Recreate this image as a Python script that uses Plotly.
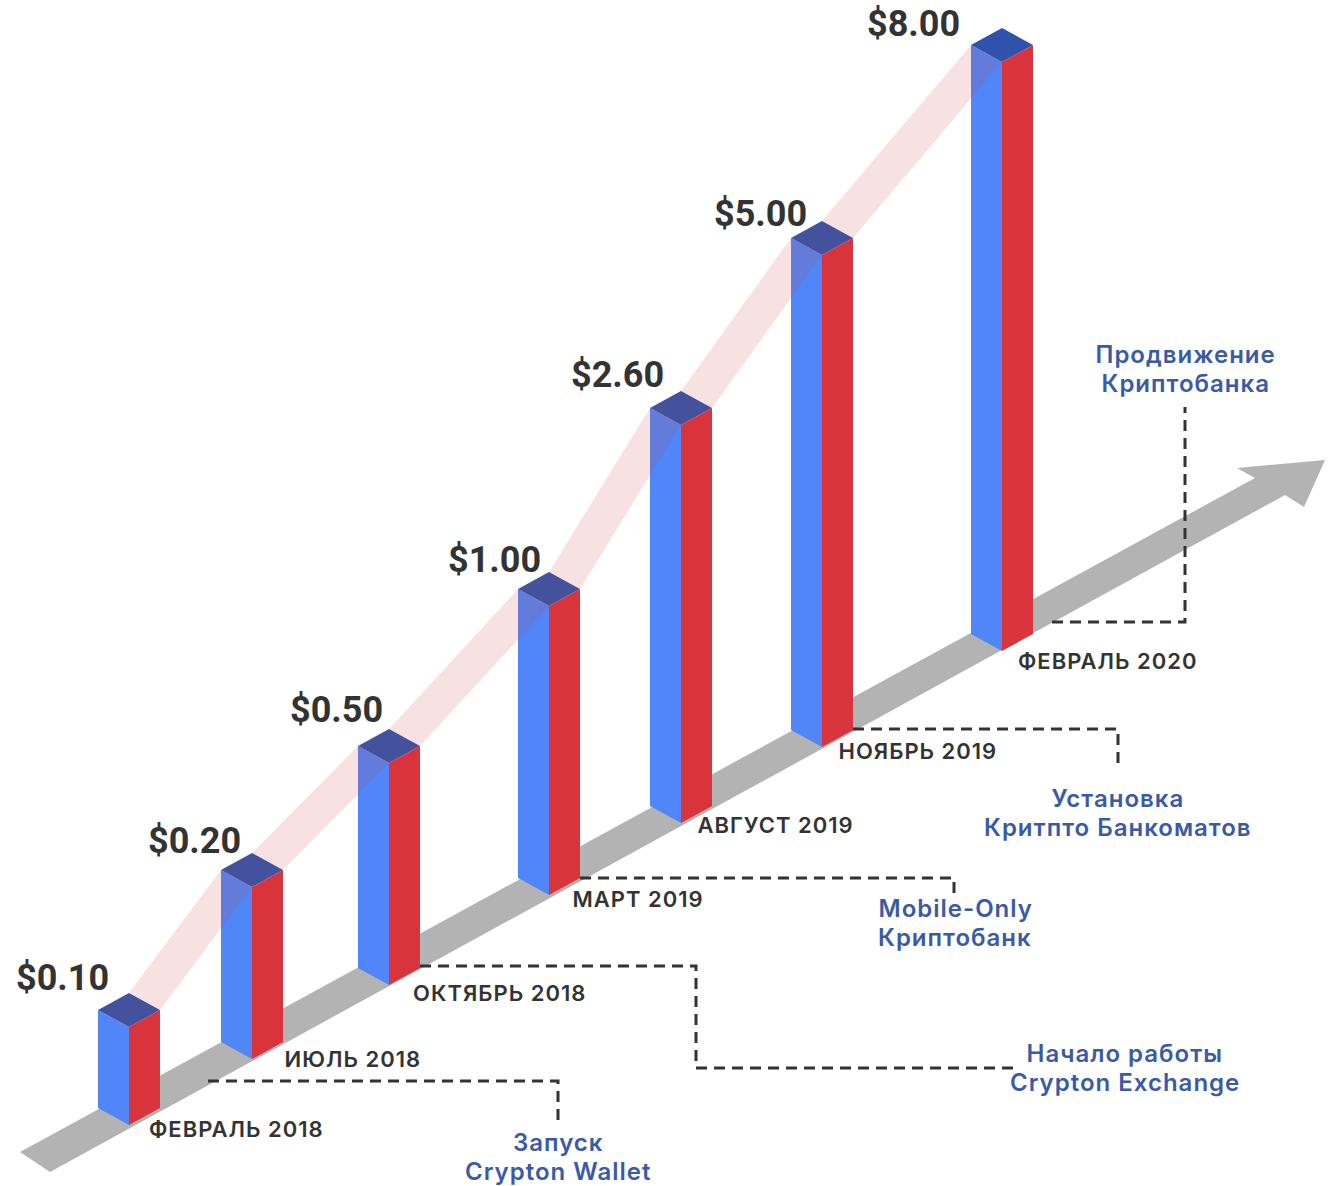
import plotly.graph_objects as go

# --- chart values ---
prices = [0.10, 0.20, 0.50, 1.00, 2.60, 5.00, 8.00]
dates = ["ФЕВРАЛЬ 2018", "ИЮЛЬ 2018", "ОКТЯБРЬ 2018", "МАРТ 2019",
         "АВГУСТ 2019", "НОЯБРЬ 2019", "ФЕВРАЛЬ 2020"]
column_heights = [98, 172, 222, 289, 398, 492, 589]
milestones = [["Запуск", "Crypton Wallet"], ["Начало работы", "Crypton Exchange"],
              ["Mobile-Only", "Криптобанк"], ["Установка", "Критпто Банкоматов"],
              ["Продвижение", "Криптобанка"]]

# --- layout (page pixels) ---
W, H = 1328, 1186
base_x = [129, 252, 389, 549, 681, 822, 1002]
base_y = [1125, 1059, 985, 895, 823, 747, 651]
HALF_W, HALF_D = 31, 17

price_pos = [(62, 978), (194, 841), (336, 710), (494, 560), (617, 375), (760, 214), (913, 24)]
date_pos = [(147, 1129), (282, 1059), (411, 993), (570, 899), (695, 825), (836, 751), (1016, 661)]
milestone_pos = [(558, 1142), (1125, 1053), (955, 908), (1118, 798), (1185, 354)]
LINE_STEP = 29
DATE_SPACING = 1.0
leaders = [
    [(208, 1081), (558, 1081), (558, 1122)],
    [(420, 966), (696, 966), (696, 1068), (1018, 1068)],
    [(580, 878), (954, 878), (954, 895)],
    [(853, 729), (1118, 729), (1118, 768)],
    [(1052, 622), (1185, 622), (1185, 407)],
]
arrow = [(20, 1152), (1255, 478), (1237, 468), (1325, 460), (1304, 507), (1285, 495), (50, 1172)]

BLUE, RED = "#5086f8", "#d9333b"
CAP, CAP_LAST = "#44519c", "#2f52ac"
BAND = "rgba(205,60,55,0.15)"
TEXT_DARK, TEXT_BLUE = "#333333", "#3a5aa8"


def polys(shapes):
    xs, ys = [], []
    for s in shapes:
        xs += [p[0] for p in s] + [s[0][0], None]
        ys += [p[1] for p in s] + [s[0][1], None]
    return xs, ys


def area(shapes, color):
    x, y = polys(shapes)
    return go.Scatter(x=x, y=y, mode="lines", fill="toself", fillcolor=color,
                      line=dict(width=0), hoverinfo="skip", showlegend=False)


tops = [yb - h for yb, h in zip(base_y, column_heights)]
left_faces, right_faces, caps, bands = [], [], [], []
for cx, yb, t in zip(base_x, base_y, tops):
    left_faces.append([(cx - HALF_W, yb - HALF_D), (cx, yb), (cx, t), (cx - HALF_W, t - HALF_D)])
    right_faces.append([(cx, yb), (cx + HALF_W, yb - HALF_D), (cx + HALF_W, t - HALF_D), (cx, t)])
    caps.append([(cx, t), (cx + HALF_W, t - HALF_D), (cx, t - 2 * HALF_D), (cx - HALF_W, t - HALF_D)])
for i in range(len(base_x) - 1):
    cx, t, nx, nt = base_x[i], tops[i], base_x[i + 1], tops[i + 1]
    bands.append([(cx, t - 2 * HALF_D), (nx - HALF_W, nt - HALF_D), (nx, nt), (cx + HALF_W, t - HALF_D)])

fig = go.Figure()
fig.add_trace(area([arrow], "#b3b3b3"))
fig.add_trace(area(left_faces, BLUE))
fig.add_trace(area(right_faces, RED))
fig.add_trace(area(bands, BAND))
fig.add_trace(area(caps[:-1], CAP))
fig.add_trace(area(caps[-1:], CAP_LAST))

for path in leaders:
    fig.add_trace(go.Scatter(x=[p[0] for p in path], y=[p[1] for p in path], mode="lines",
                             line=dict(color=TEXT_DARK, width=3, dash="11px,7px"),
                             hoverinfo="skip", showlegend=False))

for p, (x, y) in zip(prices, price_pos):
    fig.add_annotation(x=x, y=y, text=f"${p:.2f}", showarrow=False, xanchor="center", yanchor="middle",
                       font=dict(family="Roboto", size=36, color=TEXT_DARK, weight=700))
for d, (x, y) in zip(dates, date_pos):
    # letter spacing grows the label both ways from its centre, so push it back by half the growth
    fig.add_annotation(x=x + 0.5 * DATE_SPACING * len(d), y=y, text=d, showarrow=False,
                       xanchor="left", yanchor="middle",
                       font=dict(family="Inter", size=22, color=TEXT_DARK, weight=600))
for lines, (x, y) in zip(milestones, milestone_pos):
    for k, line in enumerate(lines):
        fig.add_annotation(x=x, y=y + k * LINE_STEP, text=line, showarrow=False, xanchor="center",
                           yanchor="middle", font=dict(family="Inter", size=24, color=TEXT_BLUE, weight=600))

fig.update_xaxes(range=[0, W], visible=False, fixedrange=True)
fig.update_yaxes(range=[H, 0], visible=False, fixedrange=True)
fig.update_layout(width=W, height=H, margin=dict(l=0, r=0, t=0, b=0),
                  paper_bgcolor="white", plot_bgcolor="white", showlegend=False)
# The reference lettering is wider than any installed face, so open it up a little.
spread = """document.body.style.margin='0';
document.querySelectorAll('.annotation-text').forEach(function(t){
  if (t.textContent.indexOf('$') < 0) { t.style.letterSpacing = '1px'; }
});"""
fig.write_html("out.html", post_script=spread, config={"displayModeBar": False})
